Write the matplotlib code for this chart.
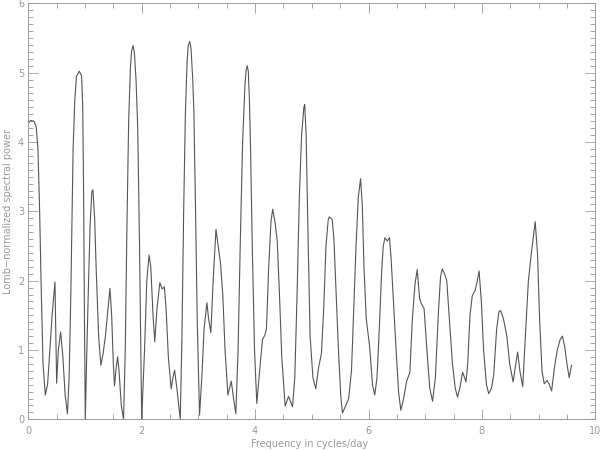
import matplotlib
matplotlib.use("Agg")
import matplotlib.pyplot as plt
from matplotlib.ticker import MultipleLocator

# frequency (cycles/day) and Lomb-normalized power
freq = [0.00, 0.04, 0.10, 0.14, 0.17, 0.20, 0.23, 0.26, 0.30, 0.34, 0.38, 0.42, 0.47, 0.50, 0.53, 0.57, 0.61, 0.65,
        0.69, 0.72, 0.75, 0.77, 0.79, 0.82, 0.85, 0.90, 0.94, 0.96, 0.975, 0.99, 1.005,
        1.03, 1.06, 1.09, 1.12, 1.14, 1.17, 1.20, 1.24, 1.28, 1.32, 1.36, 1.40, 1.44, 1.47, 1.50, 1.52, 1.55, 1.575,
        1.60, 1.64, 1.68,
        1.71, 1.74, 1.77, 1.80, 1.82, 1.845, 1.87, 1.90, 1.93, 1.96, 1.98, 2.00,
        2.05, 2.09, 2.13, 2.16, 2.20, 2.23, 2.27, 2.32, 2.36, 2.40, 2.43, 2.47, 2.52, 2.55, 2.58, 2.62, 2.68,
        2.71, 2.74, 2.77, 2.80, 2.82, 2.845, 2.87, 2.90, 2.92, 2.95, 2.98, 3.02,
        3.06, 3.10, 3.15, 3.18, 3.22, 3.26, 3.31, 3.35, 3.39, 3.43, 3.47, 3.52, 3.55, 3.58, 3.62, 3.66,
        3.70, 3.74, 3.78, 3.82, 3.84, 3.86, 3.88, 3.90, 3.92, 3.95, 3.99, 4.03,
        4.08, 4.13, 4.17, 4.20, 4.24, 4.28, 4.31, 4.35, 4.39, 4.43, 4.47, 4.53, 4.59, 4.66,
        4.70, 4.74, 4.78, 4.82, 4.86, 4.875, 4.90, 4.93, 4.97, 5.02, 5.07,
        5.12, 5.17, 5.21, 5.25, 5.29, 5.31, 5.36, 5.39, 5.43, 5.47, 5.51, 5.54, 5.60, 5.65, 5.70,
        5.74, 5.78, 5.82, 5.86, 5.89, 5.92, 5.96, 6.02, 6.07, 6.11, 6.15, 6.19, 6.23, 6.26, 6.29, 6.33, 6.37,
        6.40, 6.44, 6.48, 6.53, 6.57, 6.62, 6.67, 6.73, 6.77, 6.82, 6.86, 6.90, 6.93, 6.98, 7.03, 7.08, 7.13,
        7.18, 7.23, 7.27, 7.30, 7.34, 7.38, 7.43, 7.48, 7.53, 7.57, 7.61, 7.66, 7.72, 7.75, 7.79, 7.83, 7.88,
        7.92, 7.95, 7.99, 8.03, 8.08, 8.12, 8.17, 8.21, 8.26, 8.30, 8.33, 8.38, 8.44, 8.49, 8.55, 8.59, 8.63,
        8.67, 8.72, 8.76, 8.82, 8.88, 8.94, 8.98, 9.02, 9.06, 9.10, 9.15, 9.19, 9.23, 9.28, 9.33, 9.38, 9.42,
        9.46, 9.50, 9.54, 9.58]
power = [4.27, 4.31, 4.30, 4.22, 3.90, 3.00, 1.80, 0.80, 0.35, 0.50, 1.00, 1.50, 1.98, 0.52, 1.00, 1.26, 0.90, 0.35,
         0.08, 0.60, 1.80, 2.90, 3.90, 4.60, 4.95, 5.02, 4.95, 4.50, 3.30, 1.50, 0.00,
         0.90, 1.90, 2.80, 3.28, 3.31, 2.90, 2.10, 1.20, 0.78, 0.95, 1.20, 1.55, 1.89, 1.50, 0.80, 0.48, 0.75, 0.90,
         0.70, 0.20, 0.00,
         1.00, 2.80, 4.30, 5.05, 5.30, 5.39, 5.30, 4.90, 4.20, 2.60, 1.30, 0.00,
         1.00, 2.00, 2.37, 2.20, 1.50, 1.12, 1.60, 1.97, 1.88, 1.91, 1.60, 0.90, 0.44, 0.60, 0.71, 0.45, 0.00,
         1.20, 3.00, 4.40, 5.15, 5.38, 5.45, 5.35, 4.90, 4.45, 3.00, 1.40, 0.06,
         0.60, 1.30, 1.68, 1.45, 1.25, 2.00, 2.74, 2.50, 2.25, 1.80, 1.00, 0.35, 0.45, 0.55, 0.30, 0.08,
         1.00, 2.60, 4.00, 4.80, 5.03, 5.10, 5.02, 4.60, 3.90, 2.50, 1.00, 0.23,
         0.70, 1.15, 1.21, 1.30, 2.20, 2.85, 3.03, 2.85, 2.58, 1.80, 0.90, 0.19, 0.33, 0.18,
         0.60, 1.80, 3.20, 4.10, 4.50, 4.54, 4.10, 2.80, 1.20, 0.60, 0.44,
         0.75, 0.95, 1.60, 2.50, 2.88, 2.92, 2.88, 2.60, 1.80, 1.00, 0.35, 0.09, 0.20, 0.30, 0.70,
         1.60, 2.50, 3.20, 3.47, 3.10, 2.20, 1.45, 1.05, 0.50, 0.35, 0.60, 1.30, 2.10, 2.50, 2.62, 2.57, 2.62,
         2.30, 1.70, 1.10, 0.40, 0.13, 0.30, 0.54, 0.68, 1.40, 1.95, 2.16, 1.75, 1.67, 1.60, 1.00, 0.45, 0.26,
         0.60, 1.50, 2.05, 2.17, 2.10, 2.00, 1.40, 0.80, 0.45, 0.32, 0.45, 0.68, 0.54, 0.80, 1.50, 1.78, 1.86,
         2.00, 2.14, 1.70, 1.00, 0.50, 0.37, 0.45, 0.65, 1.30, 1.55, 1.57, 1.45, 1.20, 0.80, 0.54, 0.75, 0.97,
         0.70, 0.47, 1.10, 2.00, 2.45, 2.85, 2.40, 1.40, 0.70, 0.51, 0.56, 0.50, 0.41, 0.75, 1.00, 1.15, 1.20,
         1.05, 0.80, 0.60, 0.78]

txt = "#999999"
fig = plt.figure(figsize=(6, 4.5), dpi=100)
ax = fig.add_axes([28.3 / 600, 1 - 419.3 / 450, 567 / 600, 416 / 450])

ax.plot(freq, power, color="#555555", lw=0.8)

ax.set_xlim(0, 10)
ax.set_ylim(0, 6)
ax.xaxis.set_major_locator(MultipleLocator(2))
ax.xaxis.set_minor_locator(MultipleLocator(0.5))
ax.yaxis.set_major_locator(MultipleLocator(1))
ax.yaxis.set_minor_locator(MultipleLocator(0.1))
ax.tick_params(which="both", direction="in", top=True, right=True,
               colors="#999999", labelcolor=txt, labelsize=7, width=0.6)
ax.tick_params(which="major", length=7.5)
ax.tick_params(which="minor", length=3.5)
ax.tick_params(axis="x", which="major", pad=5)
ax.tick_params(axis="y", which="major", pad=3)
ax.tick_params(right=True, labelright=False, top=True, labeltop=False)
for s in ax.spines.values():
    s.set_color("#999999")
    s.set_linewidth(0.7)

fig.text(310 / 600, 1 - 444 / 450, "Frequency in cycles/day", color=txt, fontsize=7,
         ha="center", va="center")
fig.text(8 / 600, 0.53, "Lomb\u2212normalized spectral power", color=txt, fontsize=7,
         ha="center", va="center", rotation=90)

fig.savefig("out.png", dpi=100)
